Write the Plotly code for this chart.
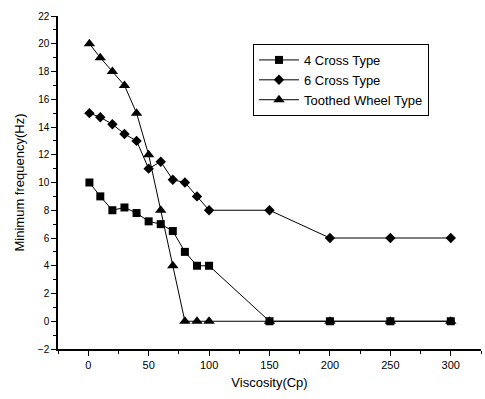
import plotly.graph_objects as go

viscosity = [1, 10, 20, 30, 40, 50, 60, 70, 80, 90, 100, 150, 200, 250, 300]
cross4 = [10, 9, 8, 8.2, 7.8, 7.2, 7, 6.5, 5, 4, 4, 0, 0, 0, 0]
cross6 = [15, 14.7, 14.2, 13.5, 13, 11, 11.5, 10.2, 10, 9, 8, 8, 6, 6, 6]
toothed = [20, 19, 18, 17, 15, 12, 8, 4, 0, 0, 0, 0, 0, 0, 0]
names = ["4 Cross Type", "6 Cross Type", "Toothed Wheel Type"]
symbols = ["square", "diamond", "triangle-up"]
sizes = [8, 8, 10]

fig = go.Figure()
for name, ys, sym, sz in zip(names, [cross4, cross6, toothed], symbols, sizes):
    fig.add_trace(go.Scatter(
        x=viscosity, y=ys, name=name, mode="lines+markers",
        line=dict(color="black", width=1),
        marker=dict(symbol=sym, size=sz, color="black"),
    ))

font = "Liberation Sans, Arial, sans-serif"
fig.update_layout(
    width=485, height=399,
    margin=dict(l=58, r=4, t=16, b=50),
    paper_bgcolor="white", plot_bgcolor="white",
    font=dict(family=font, color="black", size=11),
    showlegend=True,
    legend=dict(
        x=0.461, y=0.916, xanchor="left", yanchor="top",
        bordercolor="black", borderwidth=1, bgcolor="white",
        font=dict(size=13, family=font), tracegroupgap=0,
        itemwidth=40,
    ),
    xaxis=dict(
        range=[-25, 325], tickmode="array", tickvals=[0, 50, 100, 150, 200, 250, 300],
        ticks="outside", ticklen=5, tickwidth=1, tickcolor="black",
        showline=True, linecolor="black", linewidth=1.5, showgrid=False, zeroline=False,
        minor=dict(tickvals=[-25, 25, 75, 125, 175, 225, 275, 325], ticks="outside", ticklen=3, tickcolor="black"),
        title=dict(text="Viscosity(Cp)", font=dict(size=13), standoff=8),
        tickfont=dict(size=11),
    ),
    yaxis=dict(
        range=[-2, 22], tickmode="array", tickvals=list(range(-2, 23, 2)),
        ticks="outside", ticklen=5, tickwidth=1, tickcolor="black",
        showline=True, linecolor="black", linewidth=1.5, showgrid=False, zeroline=False,
        minor=dict(dtick=1, ticks="outside", ticklen=3, tickcolor="black"),
        title=dict(text="Minimum frequency(Hz)", font=dict(size=13), standoff=10),
        tickfont=dict(size=10),
    ),
)

fig.write_html("out.html")
